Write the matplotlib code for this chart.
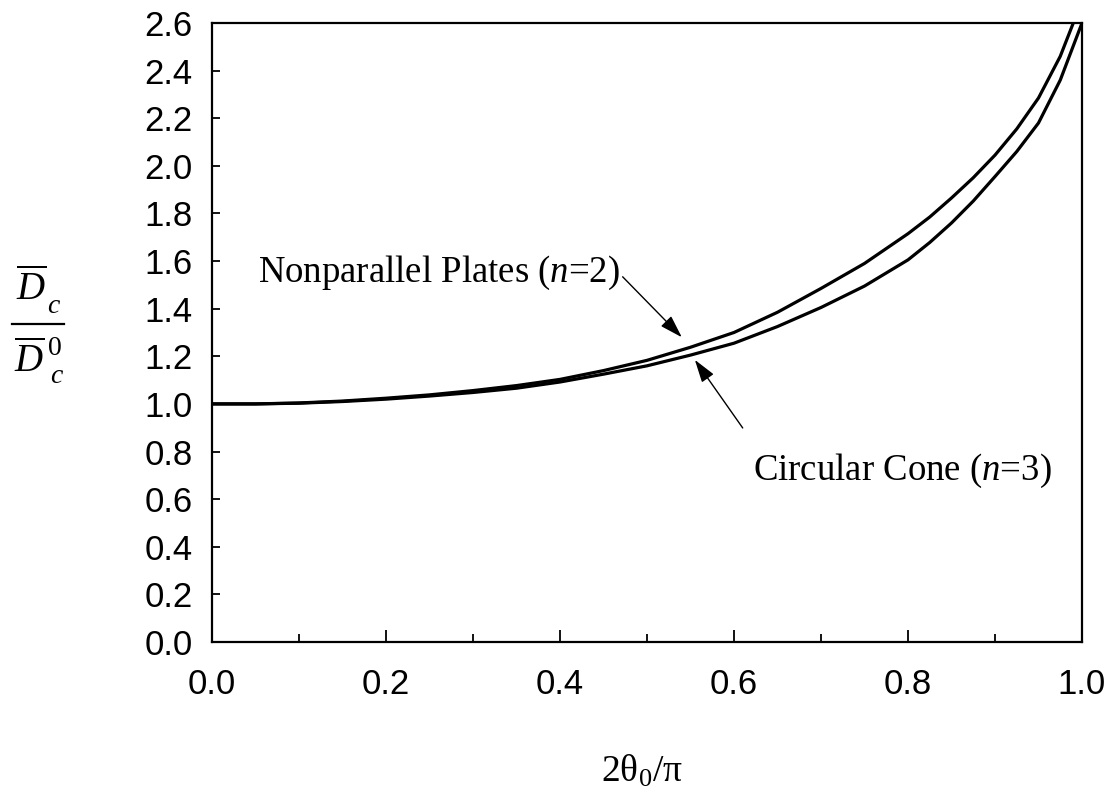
import matplotlib
matplotlib.use("Agg")
import matplotlib.pyplot as plt
from matplotlib.ticker import MultipleLocator
from matplotlib.lines import Line2D

plt.rcParams['mathtext.fontset'] = 'custom'
plt.rcParams['mathtext.rm'] = 'Liberation Serif'
plt.rcParams['mathtext.it'] = 'Liberation Serif:italic'

# valores
x_placas = [0.00, 0.05, 0.10, 0.15, 0.20, 0.25, 0.30, 0.35, 0.40, 0.45, 0.50,
            0.55, 0.60, 0.65, 0.70, 0.75, 0.80, 0.825, 0.85, 0.875, 0.90,
            0.925, 0.95, 0.975, 0.99, 1.00]
y_placas = [1.000, 1.000, 1.004, 1.012, 1.024, 1.038, 1.056, 1.077, 1.103, 1.140, 1.183,
            1.238, 1.300, 1.385, 1.485, 1.590, 1.715, 1.785, 1.865, 1.950, 2.045,
            2.155, 2.285, 2.460, 2.600, 2.700]

x_cone = [0.00, 0.05, 0.10, 0.15, 0.20, 0.25, 0.30, 0.35, 0.40, 0.45, 0.50,
          0.55, 0.60, 0.65, 0.70, 0.75, 0.80, 0.825, 0.85, 0.875, 0.90,
          0.925, 0.95, 0.975, 1.00]
y_cone = [1.000, 1.000, 1.003, 1.010, 1.020, 1.033, 1.048, 1.066, 1.092, 1.125, 1.160,
          1.205, 1.255, 1.325, 1.405, 1.495, 1.605, 1.678, 1.760, 1.852, 1.955,
          2.060, 2.180, 2.360, 2.600]

fig = plt.figure(figsize=(11.06, 7.98), dpi=100)
ax = fig.add_axes([0.1917, 0.1955, 0.7866, 0.7757])

ax.plot(x_placas, y_placas, color="black", lw=2.3)
ax.plot(x_cone, y_cone, color="black", lw=2.3)

ax.set_xlim(0, 1.0)
ax.set_ylim(0, 2.6)
ax.xaxis.set_major_locator(MultipleLocator(0.2))
ax.xaxis.set_minor_locator(MultipleLocator(0.1))
ax.yaxis.set_major_locator(MultipleLocator(0.2))
ax.set_xticklabels([f"{v:.1f}" for v in ax.get_xticks()])
ax.set_yticklabels([f"{v:.1f}" for v in ax.get_yticks()])

for s in ax.spines.values():
    s.set_linewidth(1.6)

ax.tick_params(axis="x", which="major", direction="in", length=9, width=1.3,
               labelsize=25, pad=19, top=False)
ax.tick_params(axis="x", which="minor", direction="in", length=6, width=1.3, top=False)
ax.tick_params(axis="y", which="major", direction="in", length=6, width=1.3,
               labelsize=25, pad=14, right=False)
for lab in ax.get_xticklabels() + ax.get_yticklabels():
    lab.set_fontfamily("Liberation Sans")

fig.text(0.580, 0.020, r"$\mathrm{2\theta_0/\pi}$", fontsize=27, ha="center", va="baseline")


# fracao do eixo y montada a mao (coordenadas em pixels)
def px(x, y):
    return x / 1106, 1 - y / 798


serif = dict(family="Liberation Serif", style="italic", va="baseline", ha="left")
fig.text(*px(16, 300), r"$\overline{D}$", fontsize=28, va="baseline", ha="left")
fig.text(*px(47, 313), "c", fontsize=20, **serif)
fig.add_artist(Line2D([12 / 1106, 64 / 1106], [1 - 324 / 798, 1 - 324 / 798],
                      color="black", lw=1.6, transform=fig.transFigure))
fig.text(*px(14, 372), r"$\overline{D}$", fontsize=28, va="baseline", ha="left")
fig.text(*px(48, 355), "0", fontsize=20, family="Liberation Serif",
         va="baseline", ha="left")
fig.text(*px(50, 383), "c", fontsize=20, **serif)

ax.text(0.053, 1.513, r"Nonparallel Plates ($n$=2)", fontsize=26.5,
        family="Liberation Serif", ha="left", va="baseline")
ax.text(0.622, 0.681, r"Circular Cone ($n$=3)", fontsize=26.5,
        family="Liberation Serif", ha="left", va="baseline")

seta = dict(arrowstyle="-|>,head_length=0.7,head_width=0.22", mutation_scale=20,
            color="black", lw=1.0, shrinkA=0, shrinkB=0)
ax.annotate("", xy=(0.540, 1.28), xytext=(0.472, 1.534), arrowprops=seta)
ax.annotate("", xy=(0.555, 1.185), xytext=(0.610, 0.899), arrowprops=seta)

fig.savefig("out.png", dpi=100)
